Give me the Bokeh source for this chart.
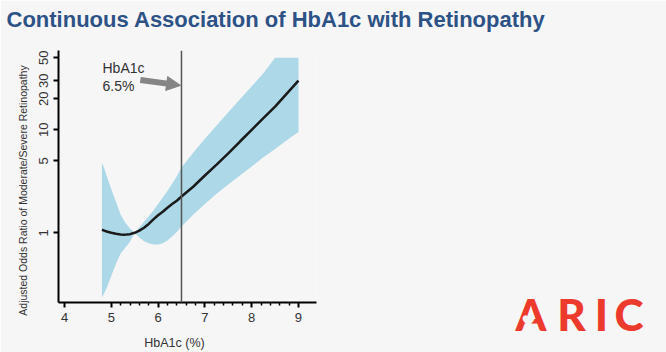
import math
from bokeh.plotting import figure
from bokeh.layouts import column
from bokeh.models import (FixedTicker, NumeralTickFormatter, Label, Arrow,
                          NormalHead, Range1d, Span)
from bokeh.embed import file_html
from bokeh.resources import INLINE

# ---------------- data ----------------
hba1c = [4.8, 4.85, 4.9, 5.0, 5.1, 5.2, 5.3, 5.4, 5.5, 5.6, 5.7, 5.8, 5.9, 6.0,
         6.1, 6.2, 6.3, 6.4, 6.5, 6.75, 7.0, 7.25, 7.5, 7.75, 8.0, 8.25, 8.5,
         8.75, 9.0]
odds_ratio = [1.07, 1.05, 1.03, 1.0, 0.98, 0.965, 0.96, 0.97, 1.0, 1.05, 1.12,
              1.22, 1.35, 1.48, 1.6, 1.75, 1.9, 2.05, 2.25, 2.8, 3.6, 4.6, 5.9,
              7.7, 10.0, 13.0, 16.8, 22.5, 30.0]
ci_upper = [4.8, 4.2, 3.6, 2.65, 2.0, 1.5, 1.25, 1.1, 1.0, 1.13, 1.28, 1.45,
            1.65, 1.9, 2.2, 2.55, 3.0, 3.55, 4.3, 6.0, 8.2, 11.0, 14.8, 19.8,
            26.5, 35.5, 50.0, 50.0, 50.0]
ci_lower = [0.235, 0.26, 0.29, 0.38, 0.5, 0.63, 0.72, 0.82, 1.0, 0.9, 0.83,
            0.79, 0.77, 0.77, 0.79, 0.84, 0.92, 1.02, 1.15, 1.5, 1.9, 2.4,
            2.95, 3.6, 4.4, 5.4, 6.5, 7.9, 9.5]

x_ticks = [4, 5, 6, 7, 8, 9]
x_minor_ticks = [5.2, 5.4, 5.6, 5.8, 6.2, 6.4, 6.6, 6.8, 7.2, 7.4, 7.6, 7.8,
                 8.2, 8.4, 8.6, 8.8]
y_ticks = [1, 5, 10, 20, 30, 50]
threshold = 6.5

title_text = "Continuous Association of HbA1c with Retinopathy"
x_label = "HbA1c (%)"
y_label = "Adjusted Odds Ratio of Moderate/Severe Retinopathy"
note_text = "HbA1c\n6.5%"
arrow_start = (5.62, 30.5)
arrow_end = (6.48, 27.0)
logo_letters = ["A", "R", "I", "C"]

# ---------------- style ----------------
BG = "#F6F6F6"
BAND = "#ACD8E8"
TITLE_COLOR = "#2D5286"
TEXT = "#333333"
RED = "#EC3A2C"
W, H = 666, 352


def add_label(fig, **kw):
    fig.add_layout(Label(x_units="canvas", y_units="canvas", **kw))


# chart
p = figure(width=W, height=H,
           x_range=Range1d(3.872, 9.385), y_range=Range1d(0.2105, 58.9),
           y_axis_type="log", output_backend="svg", toolbar_location=None,
           min_border_left=58, min_border_right=350,
           min_border_top=50, min_border_bottom=50,
           background_fill_color=BG, border_fill_color=BG,
           outline_line_color=None, frame_align=False)
p.grid.visible = False

p.varea(x=hba1c, y1=ci_lower, y2=ci_upper, fill_color=BAND, fill_alpha=1.0)
p.line(x=hba1c, y=odds_ratio, line_color="#1a1a1a", line_width=2.5)

p.add_layout(Span(location=threshold, dimension="height",
                  line_color="#555555", line_width=1.5))

p.add_layout(Arrow(end=NormalHead(size=14, fill_color="#858585",
                                  line_color="#858585"),
                   x_start=arrow_start[0], y_start=arrow_start[1],
                   x_end=arrow_end[0], y_end=arrow_end[1],
                   line_color="#858585", line_width=6))

p.xaxis.ticker = FixedTicker(ticks=x_ticks, minor_ticks=x_minor_ticks)
p.yaxis.ticker = FixedTicker(ticks=y_ticks)
p.yaxis.formatter = NumeralTickFormatter(format="0")
for ax in (p.xaxis[0], p.yaxis[0]):
    ax.axis_line_width = 2
    ax.axis_line_color = "black"
    ax.major_tick_line_width = 2
    ax.major_tick_line_color = "black"
    ax.major_tick_out = 5
    ax.major_tick_in = 0
    ax.major_label_text_font = "Liberation Sans"
    ax.major_label_text_font_size = "13px"
    ax.major_label_text_color = TEXT
    ax.major_label_standoff = 5
p.xaxis.minor_tick_line_color = "black"
p.xaxis.minor_tick_line_width = 1.5
p.xaxis.minor_tick_out = 3
p.xaxis.minor_tick_in = 0
p.yaxis.minor_tick_line_color = None
p.yaxis.major_label_orientation = "vertical"

add_label(p, x=102, y=59, text=note_text, text_font="Liberation Sans",
          text_font_size="14px", text_color=TEXT,
          text_baseline="top", text_align="left", text_line_height=1.15)

# transparent overlay canvas for the page texts (title, axis titles, logo)
ov = figure(width=W, height=H, x_range=Range1d(0, W), y_range=Range1d(H, 0),
            x_axis_location=None, y_axis_location=None,
            output_backend="svg", toolbar_location=None, min_border=0,
            background_fill_alpha=0, border_fill_alpha=0,
            outline_line_color=None, frame_align=False,
            margin=(-H, 0, 0, 0))
ov.grid.visible = False

add_label(ov, x=6, y=19, text=title_text, text_font="Liberation Sans",
          text_font_style="bold", text_font_size="22px",
          text_color=TITLE_COLOR, text_baseline="middle", text_align="left")
add_label(ov, x=174, y=342, text=x_label, text_font="Liberation Sans",
          text_font_size="12.5px", text_color=TEXT,
          text_baseline="middle", text_align="center")
add_label(ov, x=22.5, y=190, text=y_label, angle=math.pi / 2,
          text_font="Liberation Sans", text_font_size="10.5px",
          text_color=TEXT, text_baseline="middle", text_align="center")
letter_x = [530.5, 571, 601, 628.5]
for letter, lx in zip(logo_letters, letter_x):
    add_label(ov, x=lx, y=313, text=letter,
              text_font="Lato Black, Liberation Sans",
              text_font_style="bold", text_font_size="44px",
              text_color=RED, text_baseline="middle", text_align="center")
add_label(ov, x=528, y=321, text="\u2665", text_font="DejaVu Sans",
          text_font_size="16px", text_color=BG,
          text_baseline="middle", text_align="center")

page = column(p, ov, spacing=0)
open("out.html", "w").write(file_html(page, INLINE))
